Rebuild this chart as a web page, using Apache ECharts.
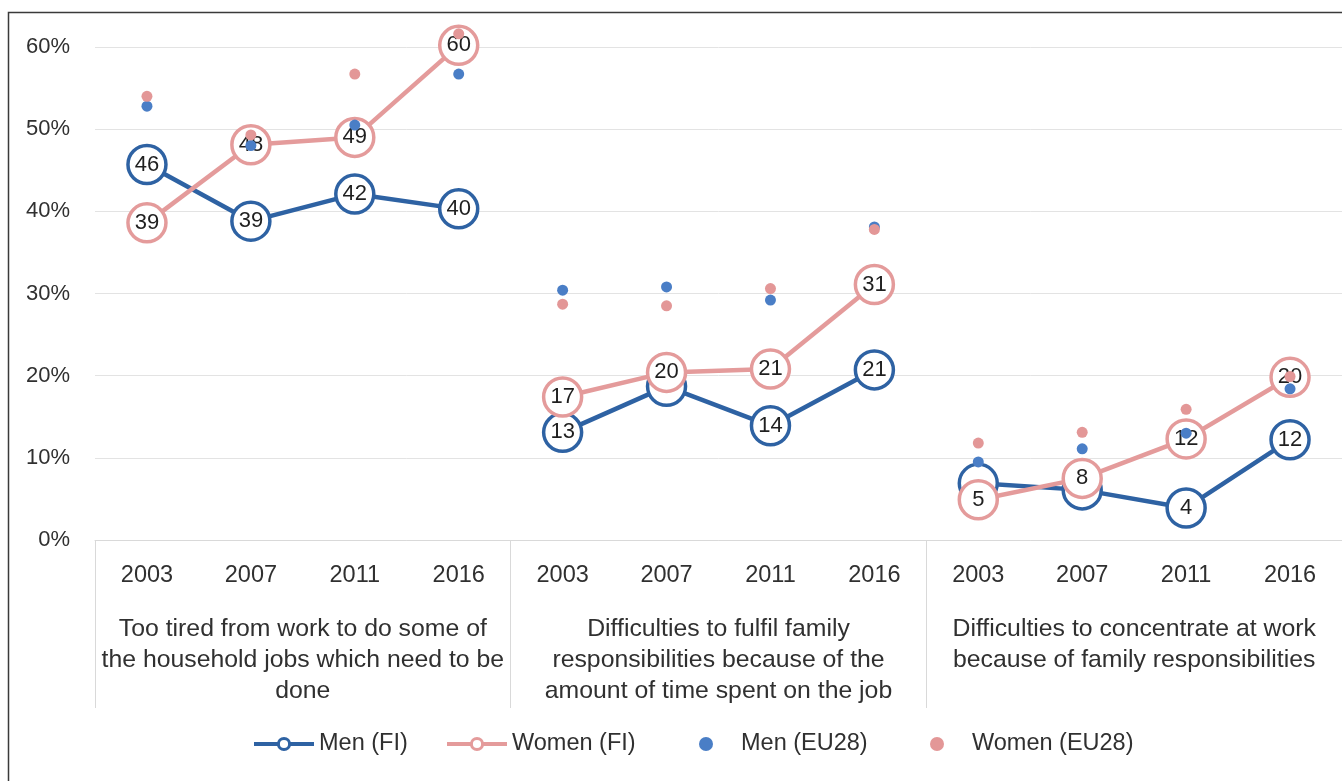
<!DOCTYPE html>
<html lang="en">
<head>
<meta charset="UTF-8">
<title>Work-family conflict, FI vs EU28</title>
<script src="https://cdn.jsdelivr.net/npm/echarts@6/dist/echarts.min.js"></script>
<style>
  html, body { margin: 0; padding: 0; background: #fff; }
  #main { width: 1342px; height: 781px; }
</style>
</head>
<body>
<div id="main"></div>
<script>
// years repeat for each of the three questions
const years = ['2003', '2007', '2011', '2016'];
const groups = [
    'Too tired from work to do some of\nthe household jobs which need to be\ndone',
    'Difficulties to fulfil family\nresponsibilities because of the\namount of time spent on the job',
    'Difficulties to concentrate at work\nbecause of family responsibilities'
];
// values in %
const menFI = [45.7, 38.8, 42.1, 40.3, 13.1, 18.7, 13.9, 20.7, 6.9, 6.1, 3.9, 12.2];
const womenFI = [38.6, 48.1, 49.0, 60.2, 17.4, 20.4, 20.8, 31.1, 4.9, 7.5, 12.3, 19.8];
const menEU = [52.8, 48.0, 50.5, 56.7, 30.4, 30.8, 29.2, 38.1, 9.5, 11.1, 13.0, 18.4];
const womenEU = [54.0, 49.3, 56.7, 61.6, 28.7, 28.5, 30.6, 37.8, 11.8, 13.1, 15.9, 19.9];
// men labels covered by the women circles
const menHiddenLabels = [5, 8, 9];

const FONT = 'Liberation Sans, Arial, sans-serif';
const TXT = '#303030';
const MEN = '#2e62a3';
const WOMEN = '#e49b9b';

var categories = [];
groups.forEach(function () { categories = categories.concat(years); });

// one line series per question so the lines break between groups
function groupData(values, g, hidden) {
    return values.map(function (v, i) {
        if (Math.floor(i / 4) !== g) return '-';
        if (hidden && hidden.indexOf(i) >= 0) return { value: v, label: { show: false } };
        return v;
    });
}

function fiSeries(name, values, color, z, hidden) {
    var out = [];
    for (var g = 0; g < groups.length; g++) {
        out.push({
            name: name,
            type: 'line',
            z: z,
            clip: false,
            data: groupData(values, g, hidden),
            symbol: 'circle',
            symbolSize: 38,
            lineStyle: { color: color, width: 4.5 },
            itemStyle: { color: '#fff', borderColor: color, borderWidth: 3.5 },
            label: {
                show: true,
                position: 'inside',
                color: '#1f1f1f',
                fontFamily: FONT,
                fontSize: 22,
                formatter: function (p) { return Math.round(p.value); }
            },
            emphasis: { disabled: true },
            animation: false
        });
    }
    return out;
}

var series = []
    .concat(fiSeries('Men (FI)', menFI, MEN, 2, menHiddenLabels))
    .concat(fiSeries('Women (FI)', womenFI, WOMEN, 3));

series.push({
    name: 'Men (EU28)', type: 'scatter', z: 4, data: menEU,
    symbolSize: 11, clip: false, itemStyle: { color: '#4a7ec6', opacity: 1 }, animation: false
});
series.push({
    name: 'Women (EU28)', type: 'scatter', z: 4, data: womenEU,
    symbolSize: 11, clip: false, itemStyle: { color: '#e39797', opacity: 1 }, animation: false
});

// one legend per entry so each sits where the original has it
function legendAt(item, left) {
    return {
        data: [item],
        left: left,
        top: 732,
        padding: 0,
        itemWidth: 60,
        itemHeight: 14,
        textStyle: { color: TXT, fontSize: 23.5, fontFamily: FONT }
    };
}

var myChart = echarts.init(document.getElementById('main'));
myChart.setOption({
    backgroundColor: '#fff',
    textStyle: { fontFamily: FONT },
    // frame on the left and top like the original picture
    graphic: [{
        type: 'polyline',
        silent: true,
        shape: { points: [[8.5, 781], [8.5, 12.5], [1342, 12.5]] },
        style: { stroke: '#3a3a3a', lineWidth: 1.5, fill: null }
    }],
    grid: { left: 95, right: 0, top: 47, bottom: 241, containLabel: false },
    legend: [
        legendAt({ name: 'Men (FI)', lineStyle: { width: 4 }, itemStyle: { borderWidth: 3 } }, 252),
        legendAt({ name: 'Women (FI)', lineStyle: { width: 4 }, itemStyle: { borderWidth: 3 } }, 445),
        legendAt({ name: 'Men (EU28)', icon: 'circle' }, 699),
        legendAt({ name: 'Women (EU28)', icon: 'circle' }, 930)
    ],
    xAxis: [{
        type: 'category',
        data: categories,
        position: 'bottom',
        axisLine: { show: true, lineStyle: { color: '#d9d9d9', width: 1 } },
        axisTick: { show: false },
        axisLabel: { color: TXT, fontSize: 23.5, margin: 24, interval: 0 }
    }, {
        type: 'category',
        data: groups,
        position: 'bottom',
        offset: 0,
        axisLine: { show: false },
        axisTick: { show: true, length: 168, interval: 0, lineStyle: { color: '#d9d9d9' } },
        axisLabel: { color: TXT, fontSize: 24.8, lineHeight: 31, margin: 74, interval: 0 }
    }],
    yAxis: {
        type: 'value',
        min: 0,
        max: 60,
        interval: 10,
        axisLine: { show: false },
        axisTick: { show: false },
        splitLine: { lineStyle: { color: '#e3e3e3', width: 1 } },
        axisLabel: { color: TXT, fontSize: 22, margin: 25, formatter: '{value}%' }
    },
    series: series
});
</script>
</body>
</html>
